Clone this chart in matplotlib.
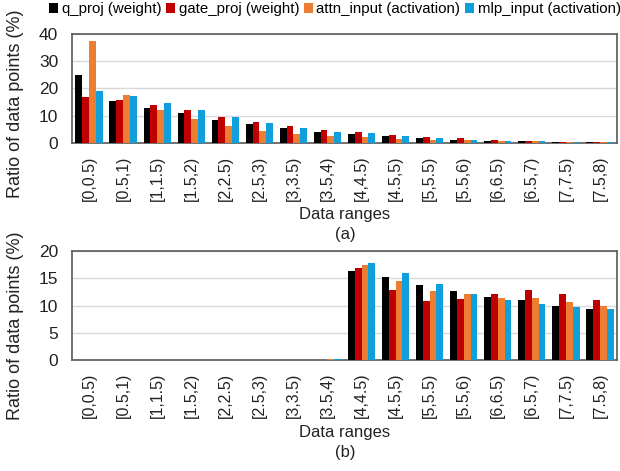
import matplotlib
matplotlib.use("Agg")
import matplotlib.pyplot as plt
import numpy as np
from matplotlib.patches import Patch

plt.rcParams['font.family'] = ['Liberation Sans', 'DejaVu Sans']

categories = ["[0,0.5)", "[0.5,1)", "[1,1.5)", "[1.5,2)", "[2,2.5)", "[2.5,3)", "[3,3.5)", "[3.5,4)",
              "[4,4.5)", "[4.5,5)", "[5,5.5)", "[5.5,6)", "[6,6.5)", "[6.5,7)", "[7,7.5)", "[7.5,8)"]
series_names = ["q_proj (weight)", "gate_proj (weight)", "attn_input (activation)", "mlp_input (activation)"]
colors = ["#000000", "#C00000", "#ED7D31", "#0FA0DB"]

# (a)
a_q    = [25.0, 15.5, 12.9, 10.9, 8.5, 6.8, 5.4, 3.9, 3.3, 2.4, 1.7, 1.2, 0.85, 0.6, 0.5, 0.4]
a_gate = [16.8, 15.9, 13.9, 12.2, 9.6, 7.8, 6.2, 4.9, 3.9, 2.9, 2.1, 1.7, 1.1, 0.7, 0.5, 0.5]
a_attn = [37.3, 17.7, 12.2, 8.7, 6.2, 4.5, 3.3, 2.4, 2.2, 1.6, 1.2, 1.0, 0.7, 0.6, 0.4, 0.4]
a_mlp  = [19.1, 17.3, 14.6, 12.0, 9.5, 7.3, 5.4, 4.1, 3.5, 2.6, 1.7, 1.2, 0.85, 0.6, 0.4, 0.4]

# (b)
b_q    = [0, 0, 0, 0, 0, 0, 0, 0.0, 16.3, 15.2, 13.7, 12.7, 11.5, 11.0, 10.0, 9.4]
b_gate = [0, 0, 0, 0, 0, 0, 0, 0.0, 16.9, 12.9, 10.8, 11.2, 12.1, 12.9, 12.1, 11.0]
b_attn = [0, 0, 0, 0, 0, 0, 0, 0.1, 17.5, 14.5, 12.7, 12.1, 11.4, 11.3, 10.7, 9.9]
b_mlp  = [0, 0, 0, 0, 0, 0, 0, 0.1, 17.8, 16.0, 14.0, 12.1, 11.0, 10.2, 9.7, 9.4]

W, H = 620, 471
fig = plt.figure(figsize=(W / 100, H / 100), dpi=100)
TXT = '#222222'

def make_ax(top, bottom):
    left, right = 72, 617
    return fig.add_axes([left / W, 1 - bottom / H, (right - left) / W, (bottom - top) / H])

ax1 = make_ax(34, 143)
ax2 = make_ax(251, 360)

def draw(ax, data, ymax, yticks, sub, ylab_center_px, xlab_center_px):
    x = np.arange(len(categories))
    bw = 0.2
    for i, (vals, c) in enumerate(zip(data, colors)):
        ax.bar(x + (i - 1.5) * bw, vals, width=bw, color=c, edgecolor='none', zorder=3)
    ax.set_xlim(-0.5, len(categories) - 0.5)
    ax.set_ylim(0, ymax)
    ax.set_yticks(yticks)
    ax.set_yticklabels([str(t) for t in yticks], fontsize=12.5)
    ax.set_xticks(x)
    ax.set_xticklabels(categories, rotation=90, fontsize=11.5)
    ax.tick_params(axis='both', length=0, colors=TXT)
    ax.tick_params(axis='y', pad=10)
    ax.tick_params(axis='x', pad=9)
    ax.yaxis.grid(True, color='#D9D9D9', linewidth=1.0, zorder=0)
    ax.set_axisbelow(True)
    for s in ax.spines.values():
        s.set_color('#595959')
        s.set_linewidth(1.2)
    fig.text(16 / W, 1 - ylab_center_px / H, "Ratio of data points (%)", rotation=90,
             ha='center', va='center', fontsize=13, color=TXT)
    fig.text(345 / W, 1 - xlab_center_px / H, "Data ranges", ha='center', va='center',
             fontsize=12, color=TXT)
    fig.text(345 / W, 1 - (xlab_center_px + 20) / H, "(" + sub + ")", ha='center', va='center',
             fontsize=12, color=TXT)

draw(ax1, [a_q, a_gate, a_attn, a_mlp], 40, [0, 10, 20, 30, 40], "a", 104, 214)
draw(ax2, [b_q, b_gate, b_attn, b_mlp], 20, [0, 5, 10, 15, 20], "b", 326, 433)

handles = [Patch(facecolor=c, edgecolor='none') for c in colors]
fig.legend(handles, series_names, loc='upper left', bbox_to_anchor=(43 / W, 1.008), ncol=4,
           frameon=False, fontsize=10.8, handlelength=0.6, handleheight=0.6,
           handletextpad=0.25, columnspacing=0.3, borderaxespad=0.0)

fig.savefig("out.png", dpi=100)
